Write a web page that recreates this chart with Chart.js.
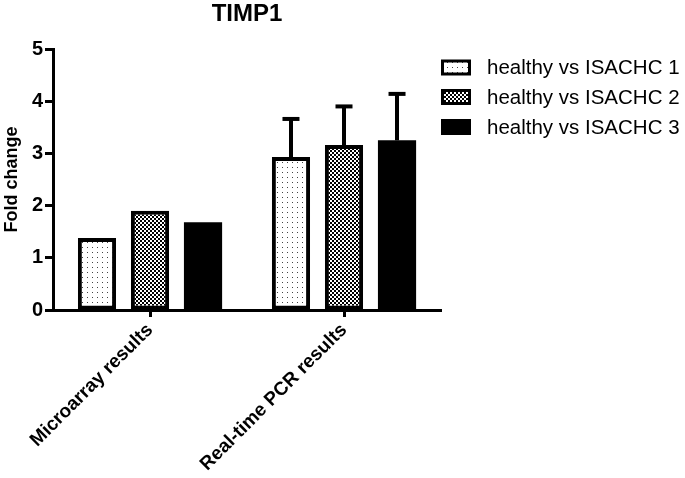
<!DOCTYPE html>
<html>
<head>
<meta charset="utf-8">
<script src="https://cdn.jsdelivr.net/npm/chart.js@4/dist/chart.umd.min.js"></script>
<style>
html,body{margin:0;padding:0;background:#fff;}
#wrap{width:685px;height:478px;position:relative;}
</style>
</head>
<body>
<div id="wrap"><canvas id="c" width="685" height="478"></canvas></div>
<script>
const chartTitle = "TIMP1";
const categories = ["Microarray results", "Real-time PCR results"];
const seriesNames = ["healthy vs ISACHC 1", "healthy vs ISACHC 2", "healthy vs ISACHC 3"];
const isachc1 = [1.38, 2.93];
const isachc2 = [1.90, 3.16];
const isachc3 = [1.68, 3.25];
const isachc1Upper = [null, 3.66];
const isachc2Upper = [null, 3.90];
const isachc3Upper = [null, 4.14];
const yTicks = [0, 1, 2, 3, 4, 5];

const FONT = '"Liberation Sans", Arial, sans-serif';
function makeDots(){
  const c = document.createElement('canvas'); c.width = 5; c.height = 5;
  const x = c.getContext('2d');
  x.fillStyle = '#fff'; x.fillRect(0,0,5,5);
  x.fillStyle = '#444'; x.fillRect(2,2,1,1);
  return x.createPattern(c, 'repeat');
}
function makeChecks(){
  const c = document.createElement('canvas'); c.width = 4; c.height = 4;
  const x = c.getContext('2d');
  x.fillStyle = '#fff'; x.fillRect(0,0,4,4);
  x.fillStyle = '#000'; x.fillRect(0,0,2,2); x.fillRect(2,2,2,2);
  return x.createPattern(c, 'repeat');
}
const ctx = document.getElementById('c').getContext('2d');
const fills = [makeDots(), makeChecks(), '#000'];
const uppers = [isachc1Upper, isachc2Upper, isachc3Upper];

const errorBars = {
  id: 'errorBars',
  afterDatasetsDraw(chart){
    const c = chart.ctx, y = chart.scales.y;
    c.save();
    c.strokeStyle = '#000'; c.lineWidth = 4; c.lineCap = 'butt';
    chart.data.datasets.forEach((ds, i) => {
      const meta = chart.getDatasetMeta(i);
      meta.data.forEach((bar, j) => {
        const up = uppers[i][j];
        if (up == null) return;
        const yt = y.getPixelForValue(up);
        c.beginPath();
        c.moveTo(bar.x, bar.y);
        c.lineTo(bar.x, yt);
        c.stroke();
        c.beginPath();
        c.moveTo(bar.x - 8.5, yt);
        c.lineTo(bar.x + 8.5, yt);
        c.stroke();
      });
    });
    c.restore();
  }
};

const customText = {
  id: 'customText',
  afterDraw(chart){
    const c = chart.ctx, a = chart.chartArea;
    c.save();
    c.fillStyle = '#000';
    c.font = 'bold 24px ' + FONT;
    c.textAlign = 'center'; c.textBaseline = 'alphabetic';
    c.fillText(chartTitle, (a.left + a.right) / 2, 21);
    c.font = '20.5px ' + FONT;
    c.textAlign = 'left'; c.textBaseline = 'middle';
    const rows = [67.5, 97, 127];
    seriesNames.forEach((n, i) => {
      const bx = 441, by = rows[i] - 8, bw = 30, bh = 16;
      c.fillStyle = fills[i];
      c.fillRect(bx, by, bw, bh);
      c.strokeStyle = '#000'; c.lineWidth = 3;
      c.strokeRect(bx + 1.5, by + 1.5, bw - 3, bh - 3);
      c.fillStyle = '#000';
      c.fillText(n, 487, rows[i] + 1);
    });
    c.restore();
  }
};

const vals = [isachc1, isachc2, isachc3];
new Chart(ctx, {
  type: 'bar',
  data: {
    labels: categories,
    datasets: seriesNames.map((n, i) => ({
      label: n,
      data: vals[i],
      backgroundColor: fills[i],
      borderColor: '#000',
      borderWidth: i === 2 ? 0 : 4,
      borderSkipped: false,
      categoryPercentage: 0.82,
      barPercentage: 0.72
    }))
  },
  options: {
    responsive: false,
    animation: false,
    events: [],
    layout: { padding: { top: 49, right: 244, left: 0, bottom: 0 } },
    plugins: { legend: { display: false }, title: { display: false }, tooltip: { enabled: false } },
    scales: {
      x: {
        grid: { offset: false, drawOnChartArea: false, drawTicks: true, tickLength: 7, tickWidth: 3, tickColor: '#000' },
        border: { color: '#000', width: 3 },
        ticks: { color: '#000', maxRotation: 45, minRotation: 45, padding: 2,
                 font: { family: FONT, size: 19, weight: 'bold' } },
        afterFit(s){ s.height = 168; }
      },
      y: {
        min: 0, max: 5,
        afterBuildTicks(s){ s.ticks = yTicks.map(v => ({ value: v })); },
        grid: { drawOnChartArea: false, drawTicks: true, tickLength: 8, tickWidth: 3, tickColor: '#000' },
        border: { color: '#000', width: 3 },
        ticks: { color: '#000', padding: 2,
                 font: { family: FONT, size: 20, weight: 'bold' } },
        title: { display: true, text: 'Fold change', color: '#000', padding: { top: 1, bottom: 0 },
                 font: { family: FONT, size: 18, weight: 'bold' } },
        afterFit(s){ s.width = 53; }
      }
    }
  },
  plugins: [errorBars, customText]
});
</script>
</body>
</html>
